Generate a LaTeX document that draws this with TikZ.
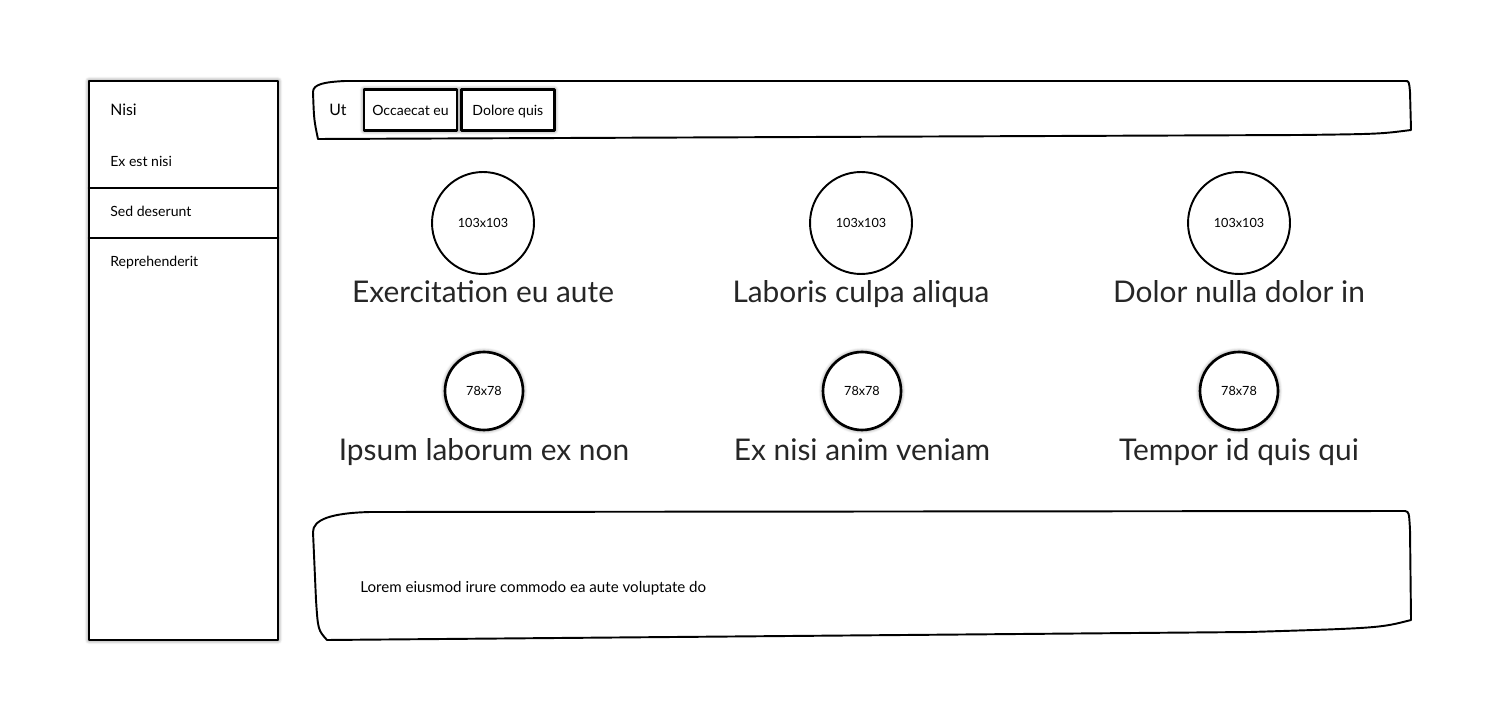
\documentclass[tikz,border=0pt]{standalone}
\usepackage{fontspec}
\setmainfont{Lato}
\usetikzlibrary{positioning, calc, shadows.blur}

\begin{document}
\begin{tikzpicture}[x=0.02cm, y=-0.02cm, line cap=round, line join=round,
    glow/.style={blur shadow={shadow xshift=0pt, shadow yshift=0pt, shadow blur radius=2.5pt, shadow blur steps=6, shadow opacity=60}},
    frame/.style={draw=black, line width=1.5pt, fill=white, glow},
    sketch/.style={draw=black, line width=1.1pt},
    button/.style={frame, minimum width=1.86cm, minimum height=0.82cm, inner sep=0pt, text height=7pt, text depth=1.3pt, font=\fontsize{8}{9}\selectfont},
    bigpic/.style={circle, draw=black, line width=1.1pt, minimum size=2.04cm, inner sep=0pt, font=\fontsize{7.2}{9}\selectfont},
    smallpic/.style={circle, frame, minimum size=1.56cm, inner sep=0pt, font=\fontsize{7.2}{9}\selectfont},
    heading/.style={anchor=base, inner sep=0pt, text=black!85, font=\fontsize{17}{19}\selectfont},
    item/.style={anchor=base west, inner sep=0pt, font=\fontsize{8}{9}\selectfont}]

    \useasboundingbox (0,0) rectangle (1500,722);

    % sidebar
    \coordinate (S1) at (89,81);
    \coordinate (S2) at (278,640);
    \draw [frame] (S1) rectangle (S2);
    \draw [line width=1.5pt] (89,188) -- (278,188);
    \draw [line width=1.5pt] (89,238) -- (278,238);
    \node [item, font=\fontsize{9}{10}\selectfont] (nisi) at (110,116) {Nisi};
    \node [item] (exest) at (110,167) {Ex est nisi};
    \node [item] (sed) at (110,217) {Sed deserunt};
    \node [item] (rep) at (110,267) {Reprehenderit};

    % top bar
    \draw [sketch] (318,139) .. controls (314,120) .. (313,92)
        .. controls (313,84) and (325,82) .. (345,81) -- (1405,81)
        .. controls (1409,81) .. (1410,92) -- (1411,130)
        .. controls (1380,134) .. (1300,135) -- cycle;
    \node [item, font=\fontsize{9}{10}\selectfont] (ut) at (329,116) {Ut};
    \node [button] (occ) at (410.5,110) {Occaecat eu};
    \node [button, right=1pt of occ] (dol) {Dolore quis};

    % big pictures and titles
    \node [bigpic] (pic1) at (483,223) {103x103};
    \node [bigpic] (pic2) at (861,223) {103x103};
    \node [bigpic] (pic3) at (1239,223) {103x103};
    \node [heading] (t1) at (483,303) {Exercitation eu aute};
    \node [heading] (t2) at (861,303) {Laboris culpa aliqua};
    \node [heading] (t3) at (1239,303) {Dolor nulla dolor in};

    % small pictures and titles
    \node [smallpic] (pic4) at (484,391) {78x78};
    \node [smallpic] (pic5) at (862,391) {78x78};
    \node [smallpic] (pic6) at (1239,391) {78x78};
    \node [heading] (t4) at (484,460) {Ipsum laborum ex non};
    \node [heading] (t5) at (862,460) {Ex nisi anim veniam};
    \node [heading] (t6) at (1239,460) {Tempor id quis qui};

    % footer
    \draw [sketch] (327,640) .. controls (318,630) .. (316,600) -- (313,532)
        .. controls (313,520) and (330,513) .. (370,512) -- (1405,511)
        .. controls (1409,512) .. (1410,530) -- (1411,620)
        .. controls (1380,628) .. (1250,632) -- cycle;
    \node [item, font=\fontsize{8.6}{10}\selectfont] (lorem) at (360,592) {Lorem eiusmod irure commodo ea aute voluptate do};
\end{tikzpicture}
\end{document}
